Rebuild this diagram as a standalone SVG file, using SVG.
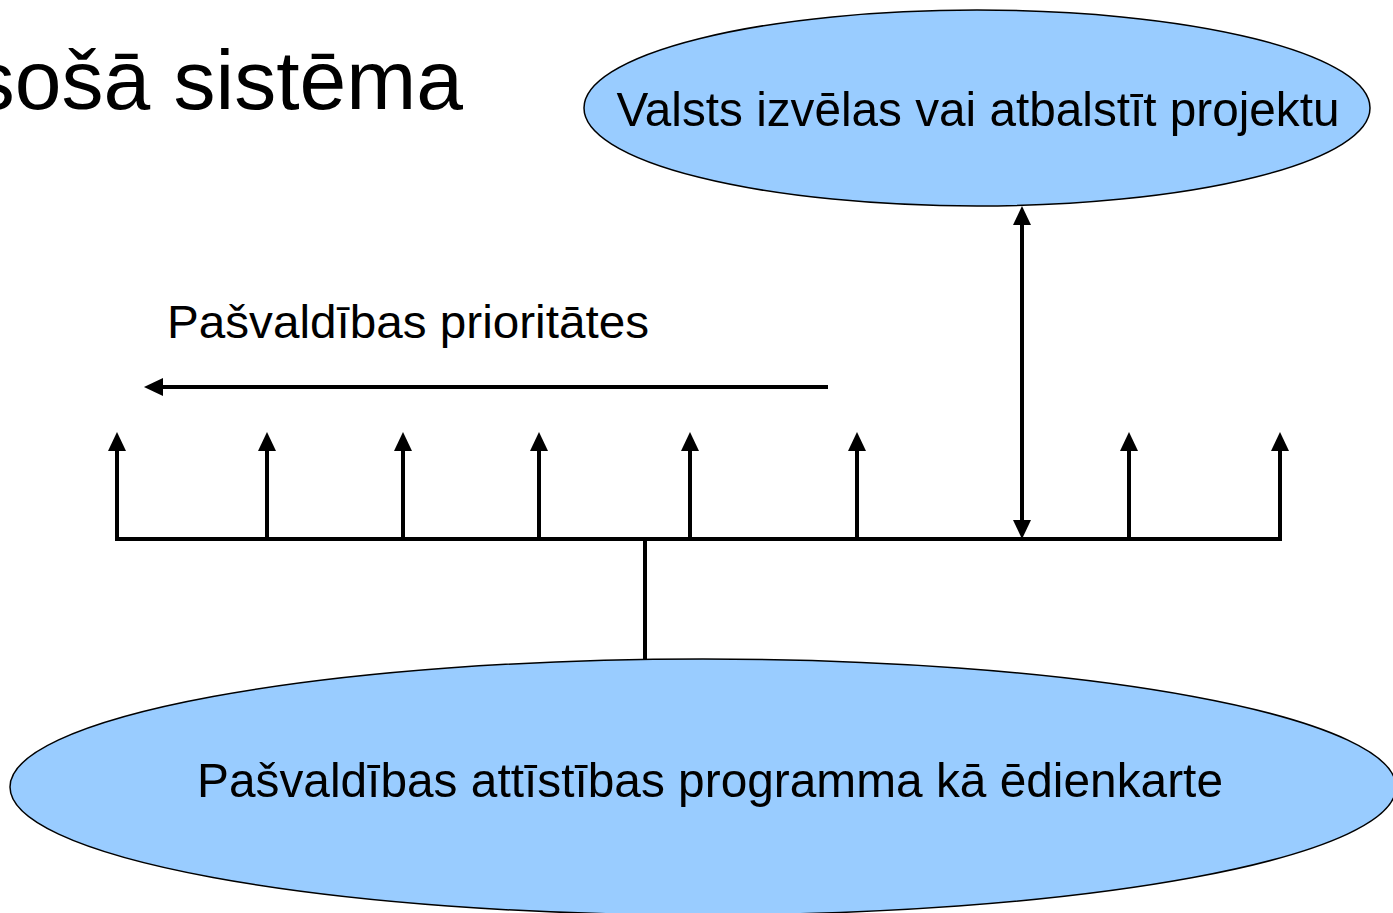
<svg xmlns="http://www.w3.org/2000/svg" width="1393" height="913" viewBox="0 0 1393 913">
<style>
.t{font-family:"Liberation Sans",Arial,sans-serif;fill:#000}
.node{fill:#99CCFF;stroke:#000;stroke-width:1.5}
.c{stroke:#000;stroke-width:4;fill:none}
</style>
<defs>
<marker id="ah" markerUnits="userSpaceOnUse" markerWidth="20" markerHeight="18" refX="0" refY="8.5" orient="auto-start-reverse" viewBox="0 0 18 17">
<path d="M0,0 L18,8.5 L0,17 z" fill="#000"/>
</marker>
</defs>
<rect width="1393" height="913" fill="#fff"/>
<text class="t" x="463" y="109" font-size="84" text-anchor="end">sošā sistēma</text>
<g id="node-valsts">
<ellipse class="node" cx="977" cy="108" rx="393" ry="98"/>
<text class="t" x="978" y="126" font-size="49" text-anchor="middle" textLength="723" lengthAdjust="spacingAndGlyphs">Valsts izvēlas vai atbalstīt projektu</text>
</g>
<g id="node-programma">
<ellipse class="node" cx="703" cy="787" rx="693" ry="128"/>
<text class="t" x="710" y="797" font-size="49" text-anchor="middle" textLength="1026" lengthAdjust="spacingAndGlyphs">Pašvaldības attīstības programma kā ēdienkarte</text>
</g>
<g id="label-prioritates">
<text class="t" x="167" y="338" font-size="47" textLength="482" lengthAdjust="spacingAndGlyphs">Pašvaldības prioritātes</text>
</g>
<g id="connectors">
<line class="c" x1="828" y1="387" x2="163" y2="387" marker-end="url(#ah)"/>
<line class="c" x1="115" y1="539" x2="1282" y2="539"/>
<line class="c" x1="645" y1="539" x2="645" y2="660"/>
<line class="c" x1="117" y1="541" x2="117" y2="451" marker-end="url(#ah)"/>
<line class="c" x1="267" y1="539" x2="267" y2="451" marker-end="url(#ah)"/>
<line class="c" x1="403" y1="539" x2="403" y2="451" marker-end="url(#ah)"/>
<line class="c" x1="539" y1="539" x2="539" y2="451" marker-end="url(#ah)"/>
<line class="c" x1="690" y1="539" x2="690" y2="451" marker-end="url(#ah)"/>
<line class="c" x1="857" y1="539" x2="857" y2="451" marker-end="url(#ah)"/>
<line class="c" x1="1129" y1="539" x2="1129" y2="451" marker-end="url(#ah)"/>
<line class="c" x1="1280" y1="541" x2="1280" y2="451" marker-end="url(#ah)"/>
<line class="c" x1="1022" y1="520" x2="1022" y2="225" marker-start="url(#ah)" marker-end="url(#ah)"/>
</g>
</svg>
